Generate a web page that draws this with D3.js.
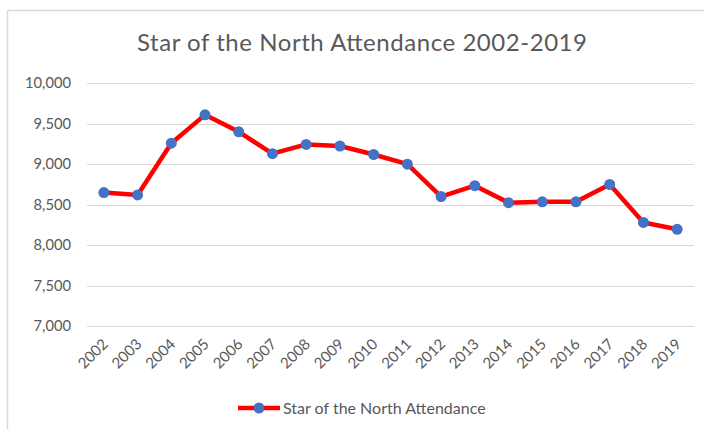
<!DOCTYPE html>
<html>
<head>
<meta charset="utf-8">
<script src="https://cdn.jsdelivr.net/npm/d3@7"></script>
<style>
  html, body { margin: 0; padding: 0; background: #fff; }
  svg text { font-family: Lato, "Open Sans", sans-serif; fill: #595959; }
</style>
</head>
<body>
<svg id="chart" width="704" height="429"></svg>
<script>
const years = ["2002","2003","2004","2005","2006","2007","2008","2009","2010","2011","2012","2013","2014","2015","2016","2017","2018","2019"];
const attendance = [8650, 8620, 9260, 9610, 9400, 9130, 9245, 9225, 9120, 9000, 8600, 8735, 8525, 8535, 8535, 8750, 8280, 8195];
const yTicks = [7000, 7500, 8000, 8500, 9000, 9500, 10000];
const chartTitle = "Star of the North Attendance 2002-2019";
const seriesName = "Star of the North Attendance";

(function () {
const svg = d3.select("#chart");
const W = 704, H = 429;

// border
svg.append("path")
  .attr("d", `M7.5,${H} V10.5 H${W}`)
  .attr("fill", "none").attr("stroke", "#d9d9d9").attr("stroke-width", 1.5);

const pLeft = 87, pRight = 694, pTop = 83.3, pBottom = 326;
const x = d3.scaleBand().domain(years).range([pLeft, pRight]);
const y = d3.scaleLinear().domain([7000, 10000]).range([pBottom, pTop]);

// gridlines
svg.append("g").selectAll("line").data(yTicks).join("line")
  .attr("x1", pLeft).attr("x2", pRight)
  .attr("y1", d => Math.round(y(d)) + 0.5).attr("y2", d => Math.round(y(d)) + 0.5)
  .attr("stroke", "#d9d9d9").attr("stroke-width", 1.2);

// y labels
const fmt = d3.format(",");
svg.append("g").selectAll("text").data(yTicks).join("text")
  .attr("x", 71).attr("y", d => y(d)).attr("dy", "0.35em")
  .attr("text-anchor", "end").attr("font-size", 14.7)
  .text(d => fmt(d));

// x labels
svg.append("g").selectAll("text").data(years).join("text")
  .attr("transform", d => `translate(${x(d) + x.bandwidth()/2 + 5},${345}) rotate(-45)`)
  .attr("text-anchor", "end").attr("font-size", 15)
  .text(d => d);

// line
const cx = d => x(d) + x.bandwidth()/2;
const line = d3.line().x((d, i) => cx(years[i])).y(d => y(d));
svg.append("path").datum(attendance)
  .attr("d", line).attr("fill", "none")
  .attr("stroke", "#ff0000").attr("stroke-width", 4.5)
  .attr("stroke-linejoin", "round");

svg.append("g").selectAll("circle").data(attendance).join("circle")
  .attr("cx", (d, i) => cx(years[i])).attr("cy", d => y(d))
  .attr("r", 5.5).attr("fill", "#4472c4");

// title
svg.append("text")
  .attr("x", 362).attr("y", 51)
  .attr("text-anchor", "middle").attr("font-size", 24)
  .attr("textLength", 450).attr("lengthAdjust", "spacing")
  .text(chartTitle);

// legend
const lg = svg.append("g");
lg.append("line").attr("x1", 238).attr("x2", 280).attr("y1", 408).attr("y2", 408)
  .attr("stroke", "#ff0000").attr("stroke-width", 4.5);
lg.append("circle").attr("cx", 259).attr("cy", 408).attr("r", 5.5).attr("fill", "#4472c4");
lg.append("text").attr("x", 283).attr("y", 408).attr("dy", "0.35em")
  .attr("font-size", 16).text(seriesName);
})();
</script>
</body>
</html>
